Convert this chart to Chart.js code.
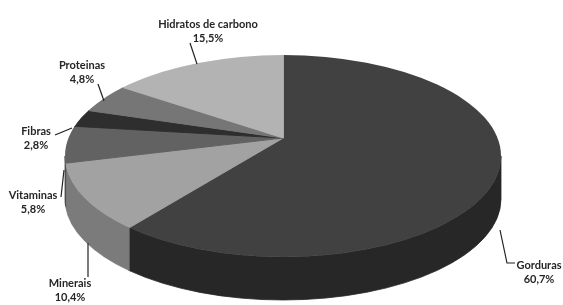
<!DOCTYPE html>
<html>
<head>
<meta charset="utf-8">
<script src="https://cdn.jsdelivr.net/npm/chart.js@4"></script>
<style>
  html, body { margin: 0; padding: 0; background: #fff; overflow: hidden; }
  #wrap { width: 563px; height: 305px; position: relative; }
</style>
</head>
<body>
<div id="wrap"><canvas id="chart"></canvas></div>
<script>
const categories = ['Gorduras', 'Minerais', 'Vitaminas', 'Fibras', 'Proteinas', 'Hidratos de carbono'];
const percentValues = [60.7, 10.4, 5.8, 2.8, 4.8, 15.5];
const valueLabels = ['60,7%', '10,4%', '5,8%', '2,8%', '4,8%', '15,5%'];
const topColors = ['#414141', '#a2a2a2', '#626262', '#2e2e2e', '#767676', '#b3b3b3'];
const sideColors = ['#272727', '#7b7b7b', '#4a4a4a', '#1e1e1e', '#5a5a5a', '#8f8f8f'];

// tilted pie: ellipse centre, radii, wall depth, and the apex (perspective puts it above the centre)
const CX = 283, CY = 156, RX = 218, RY = 101, DEPTH = 43;
const APEX_Y = 138;

// callout text centre + leader line, one per category
const callouts = [
    { x: 539, y: 265, line: [[515, 263], [507, 263], [500, 230]] },
    { x: 70, y: 283, line: [[88, 277], [88, 243]] },
    { x: 33, y: 195, line: [[61, 197], [64, 170]] },
    { x: 36, y: 131, line: [[55, 135], [72, 128]] },
    { x: 82, y: 65, line: [[98, 84], [104, 101]] },
    { x: 208, y: 24, line: [[190, 43], [197, 64]] }
];

// where the slice ray from the apex meets the rim, as an ellipse parameter angle
function rimAngle(theta) {
    const c = Math.cos(theta), s = Math.sin(theta);
    const a = (APEX_Y - CY) / RY;
    const t = -a * s + Math.sqrt(a * a * s * s - a * a + 1);
    let phi = Math.atan2(a + t * s, t * c);
    while (phi < theta - Math.PI) phi += 2 * Math.PI;
    return phi;
}

function rimPath(ctx) {
    ctx.beginPath();
    ctx.ellipse(CX, CY, RX, RY, 0, 0, 2 * Math.PI);
}

const pie3d = {
    id: 'pie3d',
    beforeDatasetsDraw(chart) {
        const ctx = chart.ctx;
        const arcs = chart.getDatasetMeta(0).data;
        const a0 = arcs[0];
        // walls: only the front half (0..PI) shows
        arcs.forEach((arc, i) => {
            const s = Math.max(rimAngle(arc.startAngle), 0);
            const e = Math.min(rimAngle(arc.endAngle), Math.PI);
            if (e <= s) return;
            ctx.save();
            ctx.beginPath();
            ctx.ellipse(CX, CY, RX, RY, 0, s, e);
            ctx.lineTo(CX + RX * Math.cos(e), CY + DEPTH + RY * Math.sin(e));
            ctx.ellipse(CX, CY + DEPTH, RX, RY, 0, e, s, true);
            ctx.closePath();
            ctx.fillStyle = sideColors[i];
            ctx.strokeStyle = sideColors[i];
            ctx.lineWidth = 0.8;
            ctx.fill();
            ctx.stroke();
            ctx.restore();
        });
        // top face: slices from the apex, cut by the rim
        ctx.save();
        rimPath(ctx);
        ctx.clip();
        const k = 1.4;
        ctx.translate(CX, APEX_Y);
        ctx.scale(k * RX / a0.outerRadius, k * RY / a0.outerRadius);
        ctx.translate(-a0.x, -a0.y);
    },
    afterDatasetsDraw(chart) {
        chart.ctx.restore();
    },
    afterDraw(chart) {
        const ctx = chart.ctx;
        ctx.save();
        ctx.strokeStyle = '#222';
        ctx.lineWidth = 1.2;
        ctx.fillStyle = '#262626';
        ctx.font = 'bold 11px Lato';
        ctx.textAlign = 'center';
        ctx.textBaseline = 'middle';
        callouts.forEach((c, i) => {
            ctx.beginPath();
            c.line.forEach((p, j) => j ? ctx.lineTo(p[0], p[1]) : ctx.moveTo(p[0], p[1]));
            ctx.stroke();
            ctx.fillText(categories[i], c.x, c.y);
            ctx.fillText(valueLabels[i], c.x, c.y + 14);
        });
        ctx.restore();
    }
};

new Chart(document.getElementById('chart').getContext('2d'), {
    type: 'pie',
    data: {
        labels: categories,
        datasets: [{
            data: percentValues,
            backgroundColor: topColors,
            borderColor: topColors,
            borderWidth: 0.6,
            clip: false
        }]
    },
    options: {
        responsive: true,
        maintainAspectRatio: false,
        animation: false,
        events: [],
        layout: { padding: { top: 56, bottom: 49, left: 100, right: 97 } },
        plugins: {
            legend: { display: false },
            tooltip: { enabled: false }
        }
    },
    plugins: [pie3d]
});
</script>
</body>
</html>
